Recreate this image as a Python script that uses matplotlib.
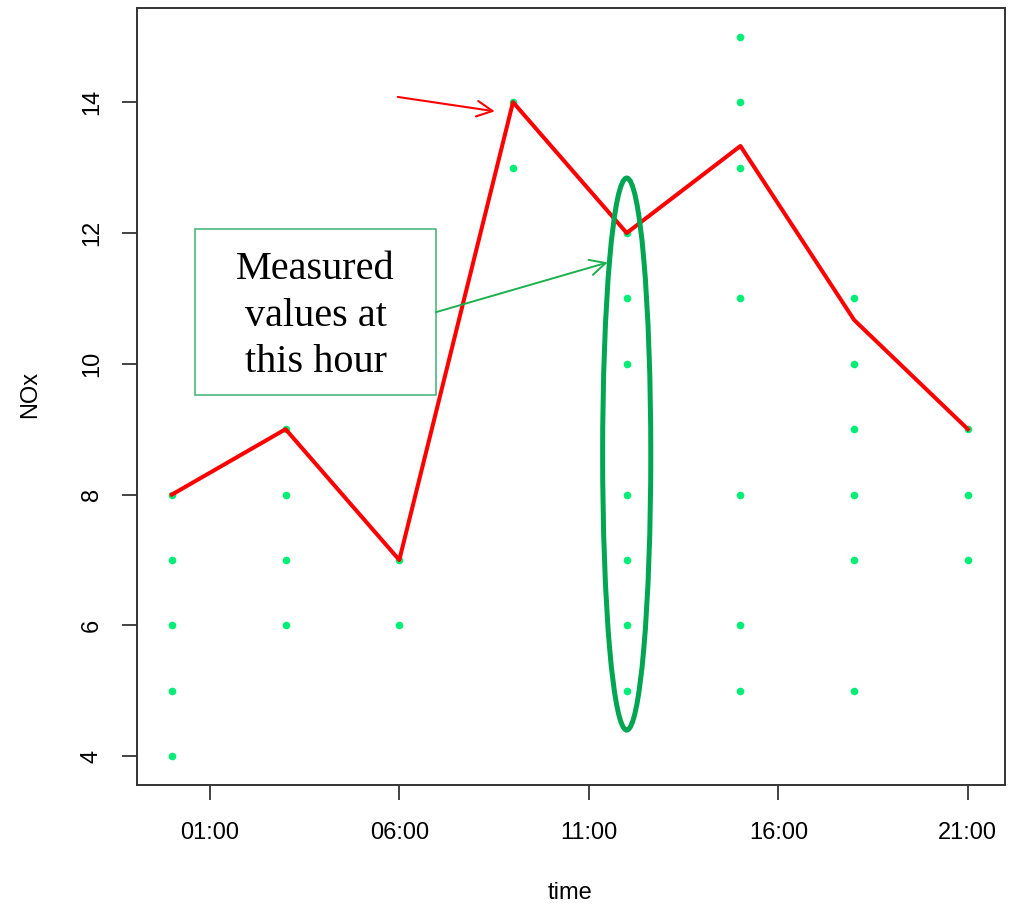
import numpy as np
import matplotlib
matplotlib.use("Agg")
import matplotlib.pyplot as plt
from matplotlib.patches import Ellipse, Rectangle

hours = [0, 3, 6, 9, 12, 15, 18, 21]
measured = [
    [8, 7, 6, 5, 4],
    [9, 8, 7, 6],
    [7, 6],
    [14, 13],
    [12, 11, 10, 8, 7, 6, 5],
    [15, 14, 13, 11, 8, 6, 5],
    [11, 10, 9, 8, 7, 5],
    [9, 8, 7],
]
line_vals = [8, 9, 7, 14, 12, 13.33, 10.67, 9]

tick_hours = [1, 6, 11, 16, 21]
tick_labels = ["01:00", "06:00", "11:00", "16:00", "21:00"]

plt.rcParams["font.family"] = ["Liberation Sans", "DejaVu Sans"]

fig = plt.figure(figsize=(10.17, 9.06), dpi=100)
ax = fig.add_axes([137 / 1017, 1 - 785 / 906, 868 / 1017, 777 / 906])

xs = np.concatenate([[h] * len(v) for h, v in zip(hours, measured)])
ys = np.concatenate(measured)
ax.plot(xs, ys, "o", color="#00EE76", ms=5.5, mec="none", zorder=2)
ax.plot(hours, line_vals, color="red", lw=2.9, zorder=3)

ax.set_xlim(-0.92, 21.98)
ax.set_ylim(3.56, 15.44)
ax.set_xticks(tick_hours)
ax.set_xticklabels(tick_labels)
ax.set_yticks([4, 6, 8, 10, 12, 14])
ax.tick_params(axis="both", length=11, width=1.2, labelsize=17, color="#222222")
ax.tick_params(axis="x", pad=15.5)
ax.tick_params(axis="y", pad=13.5)
for lab in ax.get_yticklabels():
    lab.set_rotation(90)
    lab.set_va("center")
for sp in ax.spines.values():
    sp.set_linewidth(1.4)
    sp.set_color("#333333")

fig.text(30 / 1017, 1 - 394 / 906, "NOx", rotation=90, fontsize=17,
         ha="center", va="center")
fig.text(570 / 1017, 1 - 893 / 906, "time", fontsize=17,
         ha="center", va="center")

# ellipse around the hour-12 column
col = measured[4]
ell = Ellipse((hours[4], (min(col) - 0.6 + max(col) + 0.84) / 2),
              width=1.27, height=max(col) + 0.84 - (min(col) - 0.6),
              fill=False, ec="#00A651", lw=3.6, zorder=4)
ax.add_patch(ell)

# annotation box
box = Rectangle((0.6, 9.53), 6.37, 2.53, fc="white", ec="#3CB371", lw=1.1, zorder=5)
ax.add_patch(box)
ax.text(3.79, 10.73, "Measured\nvalues at\nthis hour", family="Liberation Serif",
        fontsize=29, ha="center", va="center", linespacing=1.33, zorder=6)

ax.annotate("", xy=(11.5, 11.55), xytext=(6.97, 10.79),
            arrowprops=dict(arrowstyle="->", color="#1DB04E", lw=1.4,
                            mutation_scale=28, shrinkA=0, shrinkB=0), zorder=6)
ax.annotate("", xy=(8.52, 13.86), xytext=(5.96, 14.08),
            arrowprops=dict(arrowstyle="->", color="red", lw=1.5,
                            mutation_scale=28, shrinkA=0, shrinkB=0), zorder=6)

fig.savefig("out.png", dpi=100)
